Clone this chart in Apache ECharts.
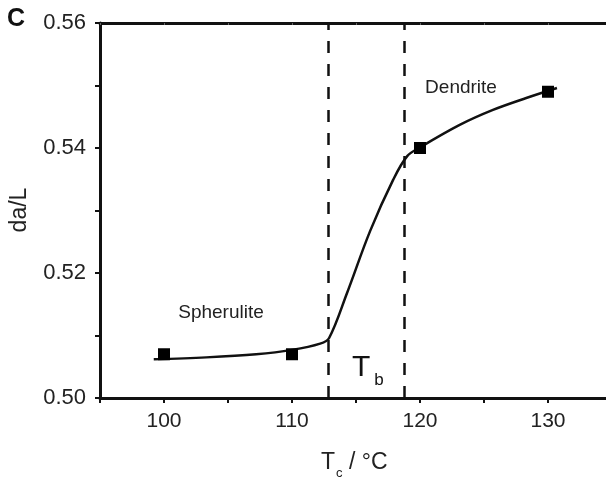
<!DOCTYPE html>
<html><head><meta charset="utf-8">
<script src="https://cdn.jsdelivr.net/npm/echarts@6/dist/echarts.min.js"></script>
<style>html,body{margin:0;padding:0;background:#fff}#c{width:606px;height:482px}</style>
</head><body><div id="c"></div>
<script>
var pointX = [100, 110, 120, 130];
var pointY = [0.507, 0.507, 0.540, 0.549];
var curveX = [99.2, 103.3, 107.2, 110.0, 112.2, 112.9, 114.3, 116.1, 117.9, 119.0, 120.0, 123.1, 125.7, 128.3, 130.7];
var curveY = [0.5062, 0.5065, 0.5070, 0.5077, 0.5087, 0.5096, 0.5168, 0.5267, 0.5349, 0.5387, 0.5401, 0.5437, 0.5461, 0.5480, 0.5496];
var boundaryX = [112.8, 118.8];
var xTickLabels = [100, 110, 120, 130];
var yTickLabels = ['0.50', '0.52', '0.54', '0.56'];

var FONT = '"Liberation Sans", Arial, sans-serif';
var chart = echarts.init(document.getElementById('c'));
var axisCol = '#111';
chart.setOption({
  animation: false,
  grid: {left: 100, top: 23, width: 512, height: 375, containLabel: false, outerBoundsMode: 'none'},
  xAxis: [{
    type: 'value', min: 95, max: 135, interval: 5,
    axisLine: {show: true, lineStyle: {color: axisCol, width: 3}},
    axisTick: {show: true, length: 5, lineStyle: {color: axisCol, width: 2}},
    splitLine: {show: false},
    axisLabel: {margin: 13, color: '#222', fontFamily: FONT, fontSize: 21,
      formatter: function (v) { return xTickLabels.indexOf(v) >= 0 ? String(v) : ''; }}
  }, {
    type: 'value', position: 'top', min: 95, max: 135, interval: 5,
    axisLine: {show: true, lineStyle: {color: axisCol, width: 3}},
    axisTick: {show: true, inside: true, length: 2, lineStyle: {color: '#666', width: 1}},
    axisLabel: {show: false}, splitLine: {show: false}
  }],
  yAxis: [{
    type: 'value', min: 0.50, max: 0.56, interval: 0.01,
    axisLine: {show: true, lineStyle: {color: axisCol, width: 3}},
    axisTick: {show: true, length: 5, lineStyle: {color: axisCol, width: 2}},
    splitLine: {show: false},
    axisLabel: {margin: 14, color: '#222', fontFamily: FONT, fontSize: 22,
      formatter: function (v) { var s = v.toFixed(2); return yTickLabels.indexOf(s) >= 0 ? s : ''; }}
  }],
  series: [{
    type: 'line', xAxisIndex: 0, yAxisIndex: 0,
    data: curveX.map(function (x, i) { return [x, curveY[i]]; }),
    smooth: 0.35, showSymbol: false, symbol: 'none',
    lineStyle: {color: '#111', width: 2.5},
    markLine: {
      silent: true, symbol: ['none', 'none'], label: {show: false},
      lineStyle: {color: '#111', width: 2.5, type: [12, 11]},
      data: boundaryX.map(function (x) { return {xAxis: x}; })
    },
    z: 3
  }, {
    type: 'scatter', xAxisIndex: 0, yAxisIndex: 0,
    data: pointX.map(function (x, i) { return [x, pointY[i]]; }),
    symbol: 'rect', symbolSize: 12,
    itemStyle: {color: '#000', opacity: 1}, z: 4
  }],
  graphic: [
    {type: 'text', left: 7, top: 7, style: {text: 'C', font: 'bold 25px ' + FONT, fill: '#111'}},
    {type: 'text', x: 20, y: 210, rotation: Math.PI / 2, style: {text: 'da/L', font: '23px ' + FONT, fill: '#222', align: 'center', verticalAlign: 'middle'}},
    {type: 'text', x: 221, y: 313, style: {text: 'Spherulite', font: '19px ' + FONT, fill: '#222', align: 'center', verticalAlign: 'middle'}},
    {type: 'text', x: 461, y: 88, style: {text: 'Dendrite', font: '19px ' + FONT, fill: '#222', align: 'center', verticalAlign: 'middle'}},
    {type: 'text', x: 352, y: 347, style: {
      text: '{a|T}{b|b}', fill: '#111',
      rich: {a: {fontFamily: FONT, fontSize: 30, color: '#111', verticalAlign: 'bottom', lineHeight: 36},
             b: {fontFamily: FONT, fontSize: 17, color: '#111', verticalAlign: 'bottom', lineHeight: 22, padding: [0, 0, -6, 4]}}
    }},
    {type: 'text', x: 321, y: 448, style: {
      text: '{a|T}{b|c}{a| / °C}', fill: '#222',
      rich: {a: {fontFamily: FONT, fontSize: 23, color: '#222', verticalAlign: 'bottom', lineHeight: 26},
             b: {fontFamily: FONT, fontSize: 13, color: '#222', verticalAlign: 'bottom', lineHeight: 16, padding: [0, 0, -6, 1]}}
    }}
  ]
});
</script></body></html>
